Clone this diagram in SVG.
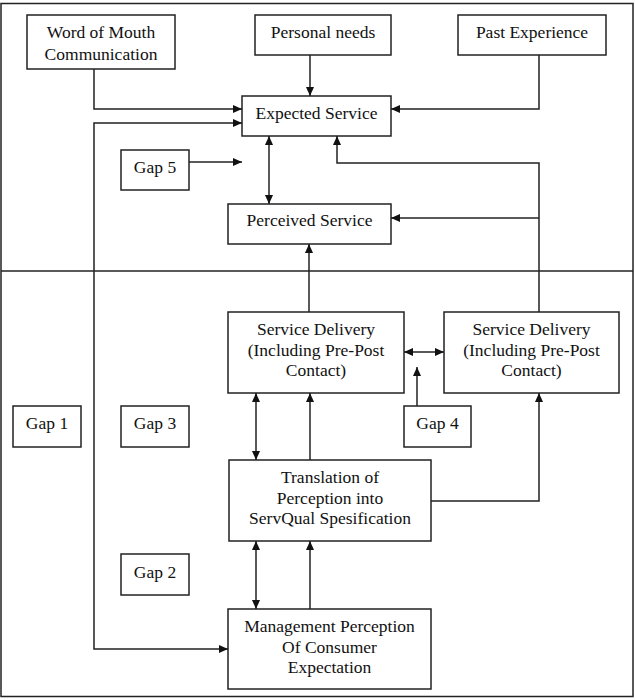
<svg xmlns="http://www.w3.org/2000/svg" width="635" height="700" viewBox="0 0 635 700">
<style>
rect{fill:#fff;stroke:#222;stroke-width:1.5}
text{font-family:"Liberation Serif","Times New Roman",serif;font-size:17.5px;fill:#111;text-anchor:middle}
.c path{fill:none;stroke:#222;stroke-width:1.5}
.e{marker-end:url(#a)}
.b{marker-start:url(#a);marker-end:url(#a)}
</style>
<defs>
<marker id="a" viewBox="0 0 10 10" refX="10" refY="5" markerWidth="9" markerHeight="8" markerUnits="userSpaceOnUse" orient="auto-start-reverse" preserveAspectRatio="none"><path d="M0,0L10,5L0,10z" fill="#111"/></marker>
</defs>
<rect x="1" y="3.5" width="632" height="693" style="fill:none"/>
<path d="M1,271H633" stroke="#222" stroke-width="1.5"/>
<g id="wom"><rect x="27" y="15" width="148" height="54"/><text x="101" y="38">Word of Mouth</text><text x="101" y="60">Communication</text></g>
<g id="pn"><rect x="255" y="15" width="136" height="40"/><text x="323" y="38">Personal needs</text></g>
<g id="pe"><rect x="458" y="15" width="148" height="40"/><text x="532" y="38">Past Experience</text></g>
<g id="exp"><rect x="242" y="96" width="149" height="40"/><text x="316.5" y="119">Expected Service</text></g>
<g id="gap5"><rect x="121" y="150" width="68" height="40"/><text x="155" y="173">Gap 5</text></g>
<g id="perc"><rect x="228" y="204" width="163" height="40"/><text x="309.5" y="226">Perceived Service</text></g>
<g id="sd1"><rect x="228" y="312" width="176" height="81"/><text x="316" y="335">Service Delivery</text><text x="316" y="356">(Including Pre-Post</text><text x="316" y="376">Contact)</text></g>
<g id="sd2"><rect x="444" y="312" width="175" height="81"/><text x="531.5" y="335">Service Delivery</text><text x="531.5" y="356">(Including Pre-Post</text><text x="531.5" y="376">Contact)</text></g>
<g id="gap1"><rect x="13" y="406" width="68" height="41"/><text x="47" y="429">Gap 1</text></g>
<g id="gap3"><rect x="121" y="406" width="68" height="41"/><text x="155" y="429">Gap 3</text></g>
<g id="gap4"><rect x="404" y="406" width="67" height="41"/><text x="437.5" y="429">Gap 4</text></g>
<g id="trans"><rect x="229" y="460" width="202" height="81"/><text x="330" y="483">Translation of</text><text x="330" y="504">Perception into</text><text x="330" y="524">ServQual Spesification</text></g>
<g id="gap2"><rect x="121" y="554" width="68" height="41"/><text x="155" y="578">Gap 2</text></g>
<g id="mgmt"><rect x="228" y="609" width="203" height="80"/><text x="329.5" y="632">Management Perception</text><text x="329.5" y="653">Of Consumer</text><text x="329.5" y="673">Expectation</text></g>
<g class="c" id="connectors">
<path class="e" d="M94,69V109H242"/>
<path class="e" d="M310,55V96"/>
<path class="e" d="M539,55V109H391"/>
<path class="b" d="M242,123H94V649H228"/>
<path class="e" d="M189,162H242"/>
<path class="b" d="M269,136V204"/>
<path class="e" d="M309,312V244"/>
<path class="e" d="M539,312V163H337V136"/>
<path class="e" d="M539,218H391"/>
<path class="b" d="M404,352H444"/>
<path class="e" d="M417,406V367"/>
<path class="b" d="M256,393V460"/>
<path class="e" d="M310,460V393"/>
<path class="e" d="M431,501H539V393"/>
<path class="b" d="M256,541V609"/>
<path class="e" d="M310,609V541"/>
</g>
</svg>
